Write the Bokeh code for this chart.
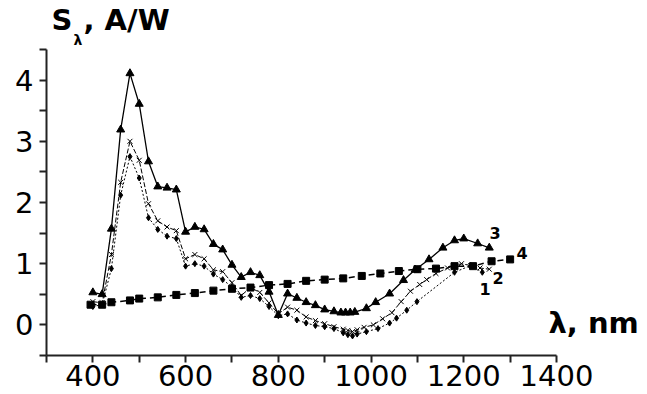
from bokeh.plotting import figure
from bokeh.models import Range1d, FixedTicker, Label
from bokeh.embed import file_html
from bokeh.resources import INLINE

# ---- data ----
x1 = [400, 420, 440, 460, 480, 500, 520, 540, 560, 580, 600, 620, 640, 660, 680, 700, 720, 740, 760, 780,
      800, 820, 840, 860, 880, 900, 920, 940, 950, 960, 970, 990, 1015, 1040, 1055, 1077, 1099, 1180, 1215, 1240]
y1 = [0.30, 0.33, 0.92, 2.12, 2.75, 2.40, 1.75, 1.56, 1.45, 1.41, 0.96, 1.00, 0.96, 0.83, 0.74, 0.62, 0.45, 0.48, 0.43, 0.30,
      0.15, 0.18, 0.08, 0.03, -0.01, -0.03, -0.06, -0.13, -0.16, -0.18, -0.15, -0.11, -0.06, 0.03, 0.11, 0.24, 0.38, 0.86, 0.97, 0.86]

x2 = [400, 420, 440, 460, 480, 500, 520, 540, 560, 580, 600, 620, 640, 660, 680, 700, 720, 740, 760, 780,
      800, 820, 840, 860, 880, 900, 920, 940, 950, 960, 970, 985, 1005, 1025, 1045, 1065, 1085, 1105, 1120, 1140,
      1165, 1195, 1215, 1235, 1255]
y2 = [0.38, 0.36, 1.15, 2.33, 3.00, 2.69, 1.98, 1.70, 1.60, 1.54, 1.08, 1.15, 1.08, 0.90, 0.87, 0.69, 0.48, 0.61, 0.53, 0.36,
      0.18, 0.29, 0.24, 0.13, 0.07, 0.02, -0.03, -0.07, -0.09, -0.11, -0.08, -0.04, 0.00, 0.10, 0.20, 0.38, 0.55, 0.66, 0.74, 0.84,
      0.93, 1.00, 0.97, 0.93, 0.91]

x3 = [400, 420, 440, 460, 480, 500, 520, 540, 560, 580, 600, 620, 640, 660, 680, 700, 720, 740, 760, 780,
      800, 820, 840, 860, 880, 900, 920, 935, 945, 955, 965, 990, 1010, 1040, 1070, 1095, 1125, 1155, 1180, 1200,
      1230, 1255]
y3 = [0.53, 0.50, 1.57, 3.19, 4.11, 3.61, 2.67, 2.26, 2.24, 2.21, 1.52, 1.60, 1.56, 1.32, 1.23, 0.98, 0.78, 0.86, 0.81, 0.54,
      0.16, 0.51, 0.44, 0.37, 0.32, 0.25, 0.22, 0.20, 0.20, 0.20, 0.21, 0.27, 0.37, 0.51, 0.73, 0.90, 1.07, 1.26, 1.38, 1.41,
      1.33, 1.26]

x4 = [395, 420, 440, 480, 500, 540, 580, 620, 660, 700, 740, 780, 820, 860, 900, 940, 980, 1020, 1060, 1100,
      1140, 1180, 1220, 1260, 1300]
y4 = [0.33, 0.33, 0.37, 0.40, 0.43, 0.45, 0.49, 0.52, 0.56, 0.59, 0.61, 0.65, 0.67, 0.72, 0.74, 0.76, 0.80, 0.84, 0.88, 0.91,
      0.92, 0.96, 0.96, 1.04, 1.07]

x_major = [400, 600, 800, 1000, 1200, 1400]
x_minor = [300, 500, 700, 900, 1100, 1300]
y_major = [0, 1, 2, 3, 4]
y_minor = [-0.5, 0.5, 1.5, 2.5, 3.5, 4.5]

XMIN, XMAX, YMIN, YMAX = 300, 1400, -0.5, 4.5
W, H = 647, 394
L, R, T, B = 46, 91, 49, 39          # pixel box of the axes inside the canvas

sx = (XMAX - XMIN) / (W - L - R)      # data units per pixel
sy = (YMAX - YMIN) / (H - T - B)
X0, X1 = XMIN - L * sx, XMAX + R * sx
Y0, Y1 = YMIN - B * sy, YMAX + T * sy


def px_x(px):
    return X0 + px * sx


def px_y(py):
    return Y1 - py * sy


p = figure(width=W, height=H, output_backend="svg", toolbar_location=None,
           x_range=Range1d(X0, X1), y_range=Range1d(Y0, Y1),
           min_border_left=0, min_border_right=0, min_border_top=0, min_border_bottom=0)
p.outline_line_color = None
p.grid.visible = False
p.background_fill_color = "white"
p.border_fill_color = "white"

xa, ya = p.xaxis[0], p.yaxis[0]
xa.fixed_location = YMIN
xa.bounds = (XMIN, XMAX)
ya.fixed_location = XMIN
ya.bounds = (YMIN, YMAX)

for ax in (xa, ya):
    ax.axis_line_width = 2
    ax.axis_line_color = "#222222"
    ax.major_tick_line_width = 2
    ax.minor_tick_line_width = 2
    ax.major_tick_line_color = "#222222"
    ax.minor_tick_line_color = "#222222"
    ax.major_tick_in = 0
    ax.major_tick_out = 7
    ax.minor_tick_in = 0
    ax.minor_tick_out = 7
    ax.major_label_text_font = "DejaVu Sans"
    ax.major_label_text_font_size = "29px"
    ax.major_label_text_color = "black"

xa.ticker = FixedTicker(ticks=x_major, minor_ticks=x_minor)
ya.ticker = FixedTicker(ticks=y_major, minor_ticks=y_minor)
xa.major_label_standoff = 2
ya.major_label_standoff = 6

# series 4: squares, dashed
p.line(x4, y4, line_color="black", line_width=1.5, line_dash="6 4")
p.scatter(x4, y4, marker="square", size=7, fill_color="black", line_color="black")
# series 1: small dots, dotted
p.line(x1, y1, line_color="black", line_width=1, line_dash="2 2")
p.scatter(x1, y1, marker="diamond", size=6, fill_color="black", line_color="black")
# series 2: crosses, thin line
p.line(x2, y2, line_color="black", line_width=1, line_dash="5 2")
p.scatter(x2, y2, marker="x", size=7, line_color="black", line_width=1)
# series 3: triangles, solid
p.line(x3, y3, line_color="black", line_width=1.3)
p.scatter(x3, y3, marker="triangle", size=8, fill_color="black", line_color="black")

# axis titles
bold = dict(text_font="DejaVu Sans", text_font_style="bold", text_color="black")
p.add_layout(Label(x=px_x(51), y=px_y(36), text="S", text_font_size="29px", **bold))
p.add_layout(Label(x=px_x(73), y=px_y(47), text="λ", text_font_size="14px", **bold))
p.add_layout(Label(x=px_x(83), y=px_y(36), text=", A/W", text_font_size="29px", **bold))
p.add_layout(Label(x=px_x(548), y=px_y(339), text="λ, nm", text_font_size="29px", **bold))

# curve numbers
for t, xp, yp in (("3", 489, 238), ("4", 516, 258), ("2", 492, 283), ("1", 479, 294)):
    p.add_layout(Label(x=px_x(xp), y=px_y(yp), text=t, text_font_size="16px", **bold))

open("out.html", "w").write(file_html(p, INLINE))
